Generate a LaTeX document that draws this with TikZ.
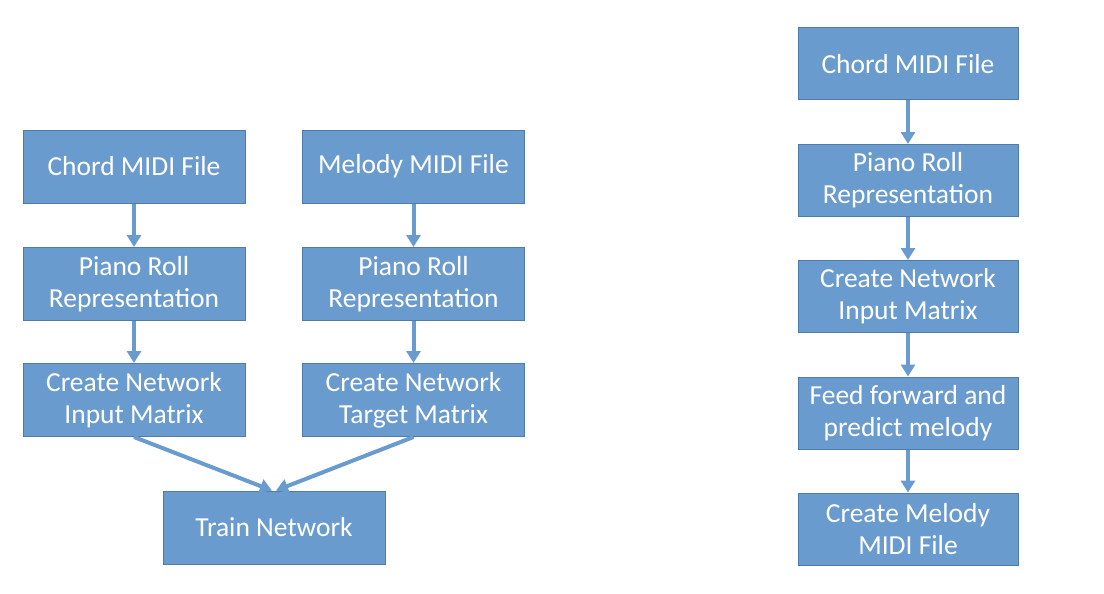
\documentclass[tikz,border=0pt]{standalone}
\usepackage{fontspec}
\setmainfont{Carlito}
\usetikzlibrary{arrows.meta}
\definecolor{boxfill}{HTML}{6A9BCF}
\definecolor{boxline}{HTML}{4F7AAA}
\begin{document}
\begin{tikzpicture}[x=1pt,y=-1pt,
  box/.style={draw=boxline, line width=1pt, fill=boxfill, text=white, align=center,
    minimum width=222pt, minimum height=73pt, inner sep=0pt,
    font=\fontsize{27.5}{32}\selectfont},
  rbox/.style={box, minimum width=220pt, minimum height=72pt},
  arr/.style={draw=boxfill, line width=4pt, -{Triangle[width=14pt,length=12pt]}}]
\useasboundingbox (0,0) rectangle (1104,594);
% left flow
\node[box] (c1) at (134,166.5) {Chord MIDI File};
\node[box] (m1) at (413.5,166.5) {Melody MIDI File};
\node[box] (c2) at (134,284) {Piano Roll\\Representation};
\node[box] (m2) at (413.5,284) {Piano Roll\\Representation};
\node[box] (c3) at (134,400) {Create Network\\Input Matrix};
\node[box] (m3) at (413.5,400) {Create Network\\Target Matrix};
\node[box] (tr) at (274,527.5) {Train Network};
\coordinate (t1) at ([xshift=-2pt]tr.north);
\coordinate (t2) at ([xshift=2pt]tr.north);
\draw[arr] (c1) -- (c2);
\draw[arr] (m1) -- (m2);
\draw[arr] (c2) -- (c3);
\draw[arr] (m2) -- (m3);
\draw[arr] (c3.south) -- (t1);
\draw[arr] (m3.south) -- (t2);
% right flow
\node[rbox] (r1) at (908,64) {Chord MIDI File};
\node[rbox] (r2) at (908,180.5) {Piano Roll\\Representation};
\node[rbox] (r3) at (908,296.5) {Create Network\\Input Matrix};
\node[rbox] (r4) at (908,413) {Feed forward and\\predict melody};
\node[rbox] (r5) at (908,529) {Create Melody\\MIDI File};
\draw[arr] (r1) -- (r2);
\draw[arr] (r2) -- (r3);
\draw[arr] (r3) -- (r4);
\draw[arr] (r4) -- (r5);
\end{tikzpicture}
\end{document}
